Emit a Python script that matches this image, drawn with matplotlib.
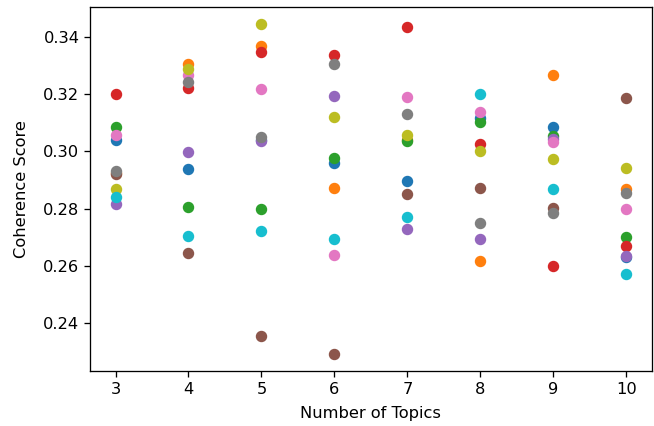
import matplotlib
matplotlib.use("Agg")
import matplotlib.pyplot as plt

# =====================================================
# DATA (one series per colour)
# =====================================================

num_topics = [3, 4, 5, 6, 7, 8, 9, 10]

blue = [0.3041, 0.2937, 0.3040, 0.2960, 0.2897, 0.3115, 0.3086, 0.2629]
orange = [0.2925, 0.3305, 0.3369, 0.2873, 0.3040, 0.2616, 0.3266, 0.2870]
green = [0.3085, 0.2804, 0.2798, 0.2978, 0.3037, 0.3103, 0.3053, 0.2699]
red = [0.3202, 0.3223, 0.3348, 0.3338, 0.3435, 0.3025, 0.2598, 0.2669]
purple = [0.2815, 0.2997, 0.3036, 0.3195, 0.2727, 0.2693, 0.3045, 0.2634]
brown = [0.2920, 0.2645, 0.2353, 0.2290, 0.2850, 0.2873, 0.2803, 0.3185]
pink = [0.3056, 0.3266, 0.3218, 0.2639, 0.3189, 0.3138, 0.3033, 0.2798]
gray = [0.2931, 0.3243, 0.3050, 0.3307, 0.3131, 0.2751, 0.2786, 0.2856]
olive = [0.2870, 0.3289, 0.3447, 0.3119, 0.3056, 0.3001, 0.2973, 0.2943]
cyan = [0.2841, 0.2703, 0.2722, 0.2692, 0.2769, 0.3202, 0.2867, 0.2570]

series = [blue, orange, green, red, purple, brown, pink, gray, olive, cyan]

# =====================================================
# PLOT
# =====================================================

plt.rcParams["font.size"] = 11.7

fig = plt.figure(figsize=(6.54, 4.26), dpi=100)
ax = fig.add_axes([0.1376, 0.1291, 0.8589, 0.8545])

for values in series:
    ax.scatter(num_topics, values, s=52)

ax.set_xlabel("Number of Topics", labelpad=7)
ax.set_ylabel("Coherence Score", labelpad=10)

ax.tick_params(length=4.1, width=0.94)
for spine in ax.spines.values():
    spine.set_linewidth(0.94)

fig.savefig("out.png", dpi=100)
